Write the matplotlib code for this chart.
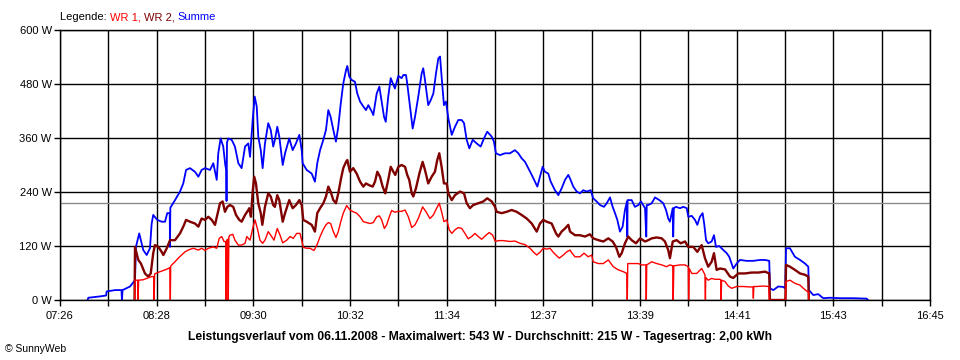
import numpy as np
import matplotlib
matplotlib.use('Agg')
import matplotlib.pyplot as plt

plt.rcParams['font.family'] = ['Liberation Sans', 'DejaVu Sans']

# (minutes after midnight, W)
summe = [
    (463.7, 0), (464.2, 5), (471.7, 8), (475.6, 10), (476.0, 19), (481.3, 22), (485.5, 22), (485.8, 0),
    (486.2, 22), (491.0, 30), (494.2, 44), (494.8, 118), (496.9, 148), (499.5, 111), (501.7, 100),
    (503.8, 115), (504.9, 170), (505.9, 189), (508.5, 178), (511.3, 174), (513.5, 174), (514.9, 193),
    (516.5, 193), (516.7, 118), (516.9, 205), (519.9, 222), (523.1, 241), (525.2, 259), (527.0, 289),
    (529.5, 293), (532.7, 285), (534.9, 274), (537.0, 289), (539.2, 293), (542.4, 289), (544.5, 304),
    (546.7, 267), (547.7, 326), (549.2, 359), (550.9, 341), (552.2, 300), (552.8, 289), (553.0, 220),
    (553.3, 350), (554.1, 359), (556.3, 356), (558.4, 341), (560.6, 304), (562.7, 293), (564.9, 341),
    (567.0, 348), (568.1, 318), (569.8, 400), (571.1, 452), (572.4, 430), (573.4, 363), (575.0, 333),
    (576.2, 293), (577.7, 348), (579.8, 393), (581.4, 378), (583.0, 341), (584.1, 356), (585.6, 385),
    (586.9, 363), (589.1, 300), (590.6, 326), (593.3, 359), (595.5, 333), (597.6, 348), (599.8, 367),
    (601.3, 333), (601.9, 304), (604.5, 289), (607.7, 281), (609.8, 263), (611.3, 304), (613.1, 333),
    (615.2, 356), (616.9, 378), (618.4, 422), (619.9, 407), (621.6, 378), (623.3, 352), (624.8, 385),
    (626.4, 437), (628.0, 481), (629.8, 511), (630.6, 520), (631.9, 496), (633.4, 489), (635.5, 485),
    (637.0, 459), (638.8, 441), (640.9, 430), (642.6, 422), (644.1, 433), (646.3, 419), (647.3, 411),
    (649.5, 459), (651.2, 474), (652.7, 441), (654.2, 407), (655.3, 396), (656.9, 452), (658.5, 493),
    (660.2, 478), (661.2, 470), (663.4, 498), (665.5, 493), (666.6, 500), (668.3, 500), (669.1, 481),
    (670.9, 430), (672.6, 381), (674.1, 407), (676.2, 452), (678.4, 504), (679.4, 515), (680.5, 489),
    (682.6, 433), (684.2, 444), (685.9, 459), (687.6, 504), (689.1, 537), (690.2, 541), (691.2, 496),
    (692.7, 433), (694.0, 441), (695.5, 404), (697.7, 367), (699.8, 385), (701.9, 400), (704.1, 400),
    (705.6, 393), (707.3, 356), (709.0, 337), (711.2, 356), (713.7, 348), (716.3, 341), (718.4, 359),
    (720.5, 374), (723.4, 363), (724.8, 352), (726.1, 326), (728.7, 322), (731.9, 326), (735.1, 326),
    (738.3, 333), (740.5, 326), (742.6, 315), (744.8, 307), (746.9, 293), (749.1, 278), (751.2, 263),
    (752.7, 252), (754.4, 274), (756.1, 296), (757.6, 285), (759.7, 281), (761.3, 263), (764.0, 244),
    (766.2, 233), (768.3, 248), (770.5, 267), (772.6, 278), (773.7, 270), (775.8, 252), (778.0, 241),
    (780.1, 237), (782.2, 244), (784.4, 241), (787.0, 244), (788.6, 226), (790.8, 219), (793.0, 211),
    (795.5, 207), (797.3, 215), (799.4, 228), (801.1, 207), (802.6, 193), (804.1, 178), (805.8, 152),
    (807.5, 163), (809.0, 200), (810.3, 219), (810.5, 141), (810.7, 222), (813.3, 222), (815.4, 207),
    (817.6, 211), (819.3, 219), (821.9, 204), (822.7, 141), (823.0, 211), (824.0, 211), (826.2, 215),
    (828.3, 228), (831.1, 222), (833.6, 215), (835.4, 200), (836.8, 181), (837.9, 174), (839.7, 204),
    (840.0, 141), (840.4, 204), (841.8, 207), (844.4, 204), (846.5, 207), (848.7, 204), (849.7, 185),
    (851.9, 187), (854.0, 178), (855.5, 167), (857.2, 185), (858.9, 193), (860.0, 167), (861.1, 133),
    (862.5, 126), (864.7, 130), (866.2, 144), (867.5, 118), (869.6, 120), (872.2, 111), (874.4, 104),
    (876.0, 96), (878.6, 70), (880.8, 81), (882.9, 89), (887.2, 87), (891.4, 87), (895.8, 89),
    (899.0, 89), (901.7, 87), (902.2, 26), (904.3, 22), (907.5, 30), (910.7, 29), (912.0, 26),
    (912.5, 115), (915.0, 115), (918.2, 96), (921.5, 89), (924.7, 81), (926.8, 74), (927.2, 22),
    (930.0, 11), (933.2, 13), (936.4, 4), (940.7, 5), (947.2, 4), (955.7, 4), (964.3, 3), (965.1, 0),
]

wr2 = [
    (493.9, 0), (494.2, 118), (496.3, 89), (498.0, 81), (500.6, 59), (502.7, 52), (504.3, 59),
    (505.9, 104), (507.0, 122), (509.2, 118), (511.3, 107), (512.4, 100), (514.6, 115), (516.7, 133),
    (519.9, 133), (523.1, 148), (525.2, 163), (527.0, 178), (529.5, 174), (532.7, 170), (534.9, 163),
    (537.0, 181), (539.2, 178), (541.3, 185), (543.5, 178), (545.6, 167), (547.1, 189), (548.8, 215),
    (550.5, 219), (552.0, 196), (553.5, 207), (555.2, 211), (557.3, 207), (559.1, 189), (561.2, 178),
    (562.7, 174), (564.9, 189), (567.0, 200), (567.6, 204), (568.7, 185), (569.8, 241), (570.8, 274),
    (571.9, 259), (573.4, 215), (575.0, 193), (576.0, 167), (577.7, 207), (579.8, 237), (581.4, 230),
    (583.0, 211), (584.1, 207), (585.6, 233), (586.9, 222), (589.1, 174), (590.6, 193), (593.3, 222),
    (595.5, 204), (597.6, 211), (599.8, 222), (601.3, 211), (602.3, 178), (604.5, 174), (607.7, 167),
    (609.8, 152), (611.3, 193), (613.1, 204), (615.2, 215), (616.9, 230), (618.4, 252), (619.9, 241),
    (621.6, 222), (623.3, 215), (624.8, 237), (626.4, 267), (628.0, 293), (629.8, 307), (630.6, 311),
    (632.3, 285), (634.4, 293), (636.6, 281), (638.8, 263), (640.9, 252), (642.6, 259), (644.7, 255),
    (646.9, 252), (648.4, 263), (649.9, 285), (651.6, 274), (653.3, 252), (655.0, 237), (656.9, 267),
    (658.5, 296), (660.2, 285), (661.4, 278), (663.4, 296), (665.5, 300), (667.7, 296), (669.1, 278),
    (670.4, 267), (672.0, 237), (673.0, 230), (674.7, 248), (676.9, 281), (679.0, 307), (680.5, 289),
    (682.6, 259), (684.8, 274), (686.9, 285), (688.4, 311), (689.7, 326), (691.2, 296), (692.7, 259),
    (694.5, 259), (695.5, 237), (697.7, 222), (699.8, 233), (703.0, 241), (705.6, 237), (707.3, 215),
    (709.4, 204), (711.5, 211), (714.8, 215), (718.0, 219), (720.5, 226), (723.4, 219), (725.5, 207),
    (726.6, 196), (729.8, 193), (733.0, 196), (736.2, 200), (739.4, 196), (742.6, 189), (745.9, 181),
    (749.1, 170), (752.3, 152), (754.4, 170), (756.5, 178), (758.7, 174), (761.9, 170), (764.7, 148),
    (766.2, 141), (768.3, 152), (770.5, 159), (772.6, 167), (773.7, 152), (776.9, 144), (780.1, 144),
    (783.3, 141), (786.5, 146), (788.6, 137), (791.9, 133), (795.1, 130), (798.3, 137), (801.1, 130),
    (803.2, 118), (805.4, 96), (806.9, 104), (809.0, 126), (811.1, 141), (813.3, 133), (816.1, 126),
    (818.7, 137), (821.9, 130), (824.0, 133), (826.2, 137), (829.4, 139), (832.6, 137), (834.7, 130),
    (836.8, 111), (837.9, 93), (839.7, 130), (842.2, 133), (844.8, 126), (847.6, 130), (849.7, 118),
    (852.9, 118), (855.5, 107), (858.3, 122), (860.4, 93), (862.5, 74), (864.7, 85), (866.2, 104),
    (867.9, 67), (870.1, 70), (873.3, 68), (876.5, 52), (878.6, 49), (881.8, 59), (886.1, 59),
    (890.4, 61), (894.7, 61), (899.0, 63), (901.7, 59), (902.1, 0), (912.1, 0), (912.5, 78),
    (915.0, 74), (918.2, 67), (921.5, 59), (924.7, 56), (926.8, 52), (927.1, 0),
]

wr1 = [
    (493.9, 0), (494.3, 44), (496.0, 44), (496.2, 0), (496.5, 44), (499.5, 45), (501.7, 48),
    (504.9, 52), (506.3, 52), (506.5, 0), (506.8, 58), (510.3, 63), (513.5, 67), (515.6, 70),
    (516.6, 72), (516.9, 0), (517.1, 75), (517.8, 78), (519.9, 85), (522.0, 93), (524.2, 100),
    (526.3, 107), (528.4, 111), (531.6, 115), (534.9, 111), (537.0, 115), (539.2, 110), (541.3, 115),
    (544.5, 118), (546.7, 115), (548.3, 137), (549.9, 141), (551.4, 130), (552.5, 130), (552.8, 0),
    (553.1, 133), (553.8, 135), (554.1, 0), (554.5, 140), (555.2, 144), (557.0, 146), (558.4, 133),
    (560.6, 122), (562.7, 122), (564.9, 126), (566.0, 141), (568.1, 133), (569.8, 159), (571.3, 178),
    (572.8, 159), (574.5, 133), (576.2, 126), (577.7, 133), (579.8, 152), (582.0, 141), (583.5, 133),
    (585.6, 159), (587.4, 144), (589.1, 127), (591.7, 133), (593.8, 141), (595.9, 137), (598.1, 148),
    (600.2, 148), (601.5, 130), (602.3, 117), (604.5, 115), (606.6, 115), (609.2, 110), (611.3, 124),
    (613.1, 141), (615.2, 157), (616.9, 167), (618.4, 172), (619.9, 170), (621.6, 152), (623.3, 139),
    (624.8, 152), (626.4, 174), (628.0, 193), (630.2, 210), (632.3, 200), (634.4, 196), (636.6, 193),
    (638.8, 185), (640.9, 174), (643.1, 172), (645.2, 170), (647.3, 172), (649.5, 185), (651.2, 187),
    (652.7, 178), (654.4, 159), (655.9, 167), (657.6, 185), (659.1, 199), (661.2, 195), (663.4, 197),
    (665.5, 197), (667.7, 200), (669.8, 185), (672.0, 161), (674.1, 167), (676.2, 181), (679.0, 207),
    (681.2, 196), (683.7, 181), (685.9, 189), (688.0, 204), (689.7, 215), (691.2, 196), (692.7, 174),
    (694.5, 178), (696.1, 156), (697.7, 148), (699.8, 156), (701.9, 161), (704.1, 159), (706.2, 148),
    (708.3, 136), (710.5, 141), (712.6, 148), (714.8, 141), (716.9, 135), (719.7, 144), (721.8, 150),
    (724.0, 144), (725.7, 130), (727.6, 132), (730.8, 132), (735.1, 130), (738.3, 131), (741.6, 126),
    (744.8, 123), (748.0, 115), (750.1, 107), (752.3, 100), (754.4, 106), (756.5, 115), (758.7, 113),
    (760.8, 115), (763.4, 104), (766.8, 93), (769.4, 100), (771.6, 107), (773.7, 111), (774.8, 105),
    (776.9, 96), (780.1, 96), (782.7, 104), (785.4, 96), (787.6, 100), (788.6, 85), (791.9, 81),
    (795.1, 81), (798.3, 89), (801.5, 74), (804.7, 67), (807.9, 63), (810.2, 59), (810.5, 0),
    (810.8, 81), (814.3, 81), (817.6, 81), (819.7, 78), (822.4, 78), (822.7, 0), (823.0, 78),
    (826.2, 85), (829.4, 81), (832.6, 78), (835.8, 74), (837.9, 78), (839.7, 76), (840.0, 0),
    (840.4, 76), (844.4, 78), (847.6, 78), (849.7, 74), (849.9, 0), (850.3, 70), (851.9, 59),
    (855.1, 59), (858.3, 70), (860.4, 56), (860.7, 0), (860.9, 50), (862.5, 44), (864.7, 48),
    (866.8, 46), (870.1, 46), (870.6, 44), (870.8, 0), (871.1, 44), (873.3, 41), (875.4, 31),
    (877.6, 26), (880.8, 30), (885.0, 30), (889.3, 29), (891.2, 29), (891.5, 4), (891.8, 30),
    (893.6, 30), (897.9, 31), (901.4, 30), (901.7, 0), (912.2, 0), (912.5, 41), (915.0, 44),
    (918.2, 37), (921.5, 33), (923.6, 26), (926.1, 19), (926.9, 19), (927.2, 0),
]

avg_w = 215
t_start, t_end = 446, 1005  # 07:26 - 16:45
time_labels = ['07:26', '08:28', '09:30', '10:32', '11:34', '12:37', '13:39', '14:41', '15:43', '16:45']
y_ticks = [0, 120, 240, 360, 480, 600]
title = ('Leistungsverlauf vom 06.11.2008 - Maximalwert: 543 W - Durchschnitt: 215 W - '
         'Tagesertrag: 2,00 kWh')

fig = plt.figure(figsize=(9.6, 3.6), dpi=100)
fig.patch.set_facecolor('white')
ax = fig.add_axes([60/960., 60/360., 870/960., 270/360.])

grid_x = np.linspace(t_start, t_end, 2*len(time_labels) - 1)
ax.set_xticks(grid_x)
ax.set_xticklabels([time_labels[i//2] if i % 2 == 0 else '' for i in range(len(grid_x))])
ax.set_yticks(y_ticks)
ax.set_yticklabels(['%d W' % v for v in y_ticks])
ax.grid(True, color='black', lw=1, zorder=1)
ax.set_axisbelow(True)

ax.axhline(avg_w, color='#8c8c8c', lw=1, zorder=2)
# Summe, WR 2 (noisy, looks thicker), WR 1 on top
for data, col, lw in ((summe, '#0000ff', 1.3), (wr2, '#800000', 1.7), (wr1, '#ff0000', 1.0)):
    t, p = zip(*data)
    ax.plot(t, p, color=col, lw=lw, zorder=3)

ax.set_xlim(t_start, t_end)
ax.set_ylim(0, 600)
ax.tick_params(direction='out', length=4, width=1, colors='black', labelsize=8)
ax.tick_params(axis='x', pad=4)
ax.tick_params(axis='y', pad=2)
for s in ax.spines.values():
    s.set_linewidth(1)
    s.set_zorder(5)

# legend line on top
renderer = fig.canvas.get_renderer()
x = 60/960.
for txt, col in (('Legende: ', 'black'), ('WR 1, ', '#ff0000'), ('WR 2, ', '#800000'), ('Summe', '#0000ff')):
    tt = fig.text(x, 1 - 17/360., txt, color=col, fontsize=8, va='center', ha='left')
    bb = tt.get_window_extent(renderer)
    x += bb.width / fig.bbox.width

fig.text(0.5, 1 - 337/360., title, ha='center', va='center', fontsize=8.7, fontweight='bold')
fig.text(5/960., 1 - 349/360., '\u00a9 SunnyWeb', ha='left', va='center', fontsize=7.5)

fig.savefig('out.png', dpi=100)
